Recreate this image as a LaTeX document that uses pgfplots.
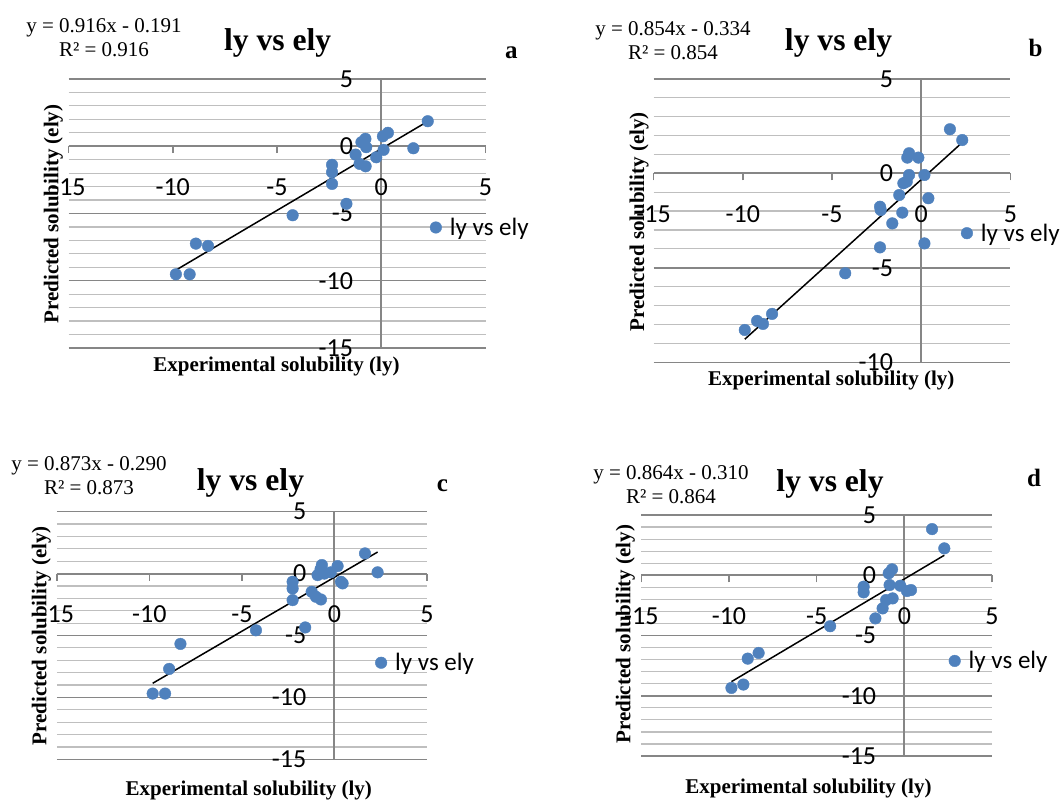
\documentclass[border=0pt]{standalone}
\usepackage{fontspec}
\setmainfont{Liberation Serif}
\newfontfamily\carlito{Carlito}
\usepackage{pgfplots}
\pgfplotsset{compat=1.18}
\definecolor{ptblue}{HTML}{4F81BD}
\definecolor{axgray}{HTML}{868686}
\definecolor{mingray}{HTML}{BFBFBF}
\pgfplotsset{
  xlchart/.style={
    scale only axis, anchor=south west,
    axis lines=middle,
    every inner x axis line/.append style={-},
    every inner y axis line/.append style={-},
    axis line style={axgray, line width=2pt, -},
    xmin=-15, xmax=5, enlargelimits=false,
    xtick={-15,-10,...,5},
    hide obscured x ticks=false, hide obscured y ticks=false,
    minor y tick num=4,
    ymajorgrids, yminorgrids,
    major grid style={axgray, line width=1.5pt},
    minor grid style={mingray, line width=1.2pt},
    tick align=outside,
    major tick length=7pt, minor tick length=0pt,
    tick style={axgray, line width=1.5pt},
    /pgf/number format/assume math mode=true,
    tick label style={font=\carlito\fontsize{26}{30}\selectfont, inner sep=0pt},
    xticklabel style={anchor=center, yshift=-34pt},
    yticklabel style={anchor=east, xshift=-21pt},
    legend style={draw=none, fill=none, inner sep=0pt, anchor=west, xshift=-5.8pt,
      font=\carlito\fontsize{25}{30}\selectfont,
      /tikz/every odd column/.append style={column sep=6pt}},
    legend image code/.code={\fill[ptblue] (0pt,0pt) circle (5.8pt);},
    clip=false,
  },
  dots/.style={only marks, mark=*, mark size=5.8pt, color=ptblue},
  trend/.style={black, line width=1.5pt, forget plot},
}
\newcommand\eqfont{\fontsize{21}{24}\selectfont}
\newcommand\labfont{\bfseries\fontsize{21}{24}\selectfont}
\newcommand\ttlfont{\bfseries\fontsize{31.6}{36}\selectfont}
\newcommand\letfont{\bfseries\fontsize{25}{28}\selectfont}

\begin{document}
\begin{tikzpicture}
\useasboundingbox (0,0) rectangle (1064pt,800pt);
\clip (0,0) rectangle (1064pt,800pt);

% ---- panel a
\begin{axis}[xlchart, at={(68.5pt,452pt)}, width=417pt, height=269pt,
  ymin=-15, ymax=5, ytick={-15,-10,...,5},
  legend style={at={(axis cs:2.60,-6.04)}}]
\addplot[trend] coordinates {(-9.85,-9.21) (2.23,1.85)};
\addplot[dots] coordinates {
  (2.23,1.86) (0.32,1.00) (0.08,0.74) (1.54,-0.15) (0.11,-0.27) (-0.24,-0.82)
  (-0.76,0.55) (-0.95,0.30) (-0.72,-0.07) (-1.23,-0.62) (-1.04,-1.31) (-0.75,-1.49)
  (-2.36,-1.38) (-2.36,-1.93) (-2.36,-2.80) (-1.67,-4.28) (-4.25,-5.13)
  (-8.89,-7.24) (-8.31,-7.41) (-9.85,-9.52) (-9.19,-9.52)
};
\addlegendentry{ly vs ely}
\end{axis}
\node[align=center, font=\eqfont] at (104pt,762pt) {y = 0.916x - 0.191\\R² = 0.916};
\node[font=\ttlfont] at (277.6pt,757.5pt) {ly vs ely};
\node[font=\letfont] at (511.4pt,747.5pt) {a};
\node[rotate=90, font=\labfont] at (53.4pt,586pt) {Predicted solubility (ely)};
\node[font=\labfont] at (276.4pt,433.3pt) {Experimental solubility (ly)};

% ---- panel b
\begin{axis}[xlchart, at={(653.6pt,437.7pt)}, width=356.8pt, height=283.5pt,
  ymin=-10, ymax=5, ytick={-10,-5,...,5},
  legend style={at={(axis cs:2.54,-3.17)}}]
\addplot[trend] coordinates {(-9.89,-8.78) (2.30,1.63)};
\addplot[dots] coordinates {
  (1.61,2.33) (2.30,1.76) (-0.68,1.06) (-0.78,0.83) (-0.16,0.83) (-0.68,-0.09)
  (0.18,-0.09) (-0.81,-0.44) (-1.00,-0.53) (-1.23,-1.15) (0.40,-1.32)
  (-2.31,-1.77) (-2.27,-1.94) (-1.06,-2.08) (-1.62,-2.65) (-2.31,-3.92)
  (0.18,-3.71) (-4.26,-5.29) (-8.36,-7.44) (-9.20,-7.81) (-8.87,-7.97) (-9.89,-8.29)
};
\addlegendentry{ly vs ely}
\end{axis}
\node[align=center, font=\eqfont] at (673pt,759pt) {y = 0.854x - 0.334\\R² = 0.854};
\node[font=\ttlfont] at (838.5pt,756.7pt) {ly vs ely};
\node[font=\letfont] at (1035.6pt,751.7pt) {b};
\node[rotate=90, font=\labfont] at (639pt,578.3pt) {Predicted solubility (ely)};
\node[font=\labfont] at (831.3pt,420pt) {Experimental solubility (ly)};

% ---- panel c
\begin{axis}[xlchart, at={(56.8pt,40.7pt)}, width=370.2pt, height=247.6pt,
  ymin=-15, ymax=5, ytick={-15,-10,...,5},
  legend style={at={(axis cs:2.50,-7.20)}}]
\addplot[trend] coordinates {(-9.82,-8.86) (2.33,1.74)};
\addplot[dots] coordinates {
  (1.65,1.63) (2.33,0.10) (-0.68,0.69) (0.17,0.61) (-0.91,-0.12) (-0.55,0.00)
  (-0.75,0.35) (-0.20,0.10) (0.35,-0.66) (0.44,-0.79) (-2.26,-0.66) (-2.26,-1.20)
  (-2.26,-2.14) (-1.23,-1.47) (-1.00,-1.87) (-0.73,-2.09) (-1.58,-4.35)
  (-4.24,-4.58) (-8.32,-5.68) (-8.93,-7.70) (-9.82,-9.69) (-9.15,-9.69)
};
\addlegendentry{ly vs ely}
\end{axis}
\node[align=center, font=\eqfont] at (89pt,324pt) {y = 0.873x - 0.290\\R² = 0.873};
\node[font=\ttlfont] at (250.5pt,316.7pt) {ly vs ely};
\node[font=\letfont] at (442.5pt,314.2pt) {c};
\node[rotate=90, font=\labfont] at (41.3pt,164.2pt) {Predicted solubility (ely)};
\node[font=\labfont] at (248.8pt,10pt) {Experimental solubility (ly)};

% ---- panel d
\begin{axis}[xlchart, at={(641.3pt,44pt)}, width=350.7pt, height=241pt,
  ymin=-15, ymax=5, ytick={-15,-10,...,5},
  legend style={at={(axis cs:2.85,-7.11)}}]
\addplot[trend] coordinates {(-9.86,-8.83) (2.28,1.66)};
\addplot[dots] coordinates {
  (1.58,3.83) (2.28,2.23) (-0.70,0.49) (-0.89,0.16) (-2.32,-0.95) (-2.32,-1.42)
  (-0.84,-0.81) (-0.23,-0.87) (0.15,-1.31) (0.38,-1.23) (-1.04,-2.06)
  (-0.67,-1.92) (-1.24,-2.75) (-1.65,-3.58) (-4.23,-4.23) (-8.31,-6.45)
  (-8.93,-6.92) (-9.18,-9.07) (-9.86,-9.35)
};
\addlegendentry{ly vs ely}
\end{axis}
\node[align=center, font=\eqfont] at (671pt,315pt) {y = 0.864x - 0.310\\R² = 0.864};
\node[font=\ttlfont] at (830pt,315.8pt) {ly vs ely};
\node[font=\letfont] at (1034pt,322.5pt) {d};
\node[rotate=90, font=\labfont] at (625.3pt,165.8pt) {Predicted solubility (ely)};
\node[font=\labfont] at (808.4pt,11.7pt) {Experimental solubility (ly)};
\end{tikzpicture}
\end{document}
